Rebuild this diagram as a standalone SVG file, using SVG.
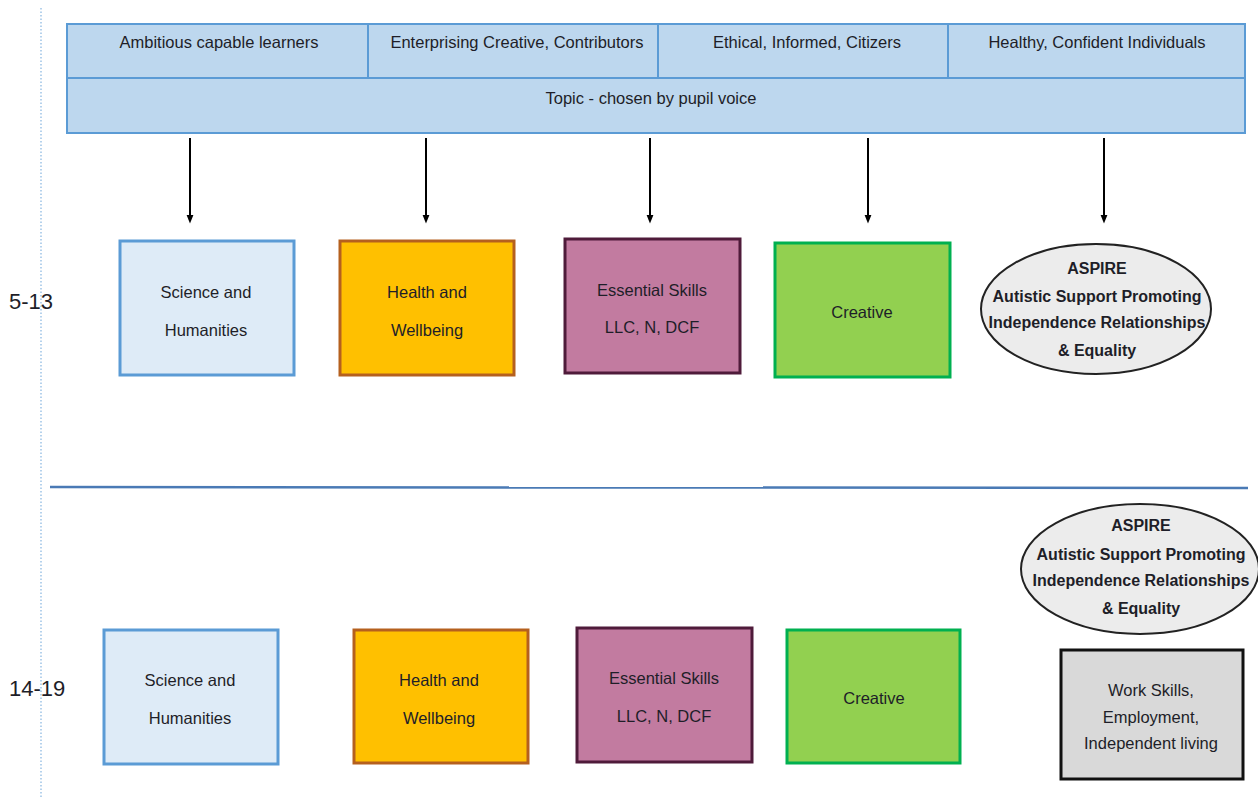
<svg xmlns="http://www.w3.org/2000/svg" width="1258" height="799" viewBox="0 0 1258 799">
<style>
text{font-family:"Liberation Sans",Arial,sans-serif;font-size:16.5px;fill:#1e1e28;text-anchor:middle}
.hdr{fill:#bdd7ee;stroke:#5b9bd5;stroke-width:2}
.sci{fill:#deebf7;stroke:#5b9bd5;stroke-width:3}
.hw{fill:#ffc000;stroke:#b5601e;stroke-width:3}
.es{fill:#c27ba0;stroke:#4f1b3a;stroke-width:3}
.cr{fill:#92d050;stroke:#00b050;stroke-width:3}
.asp{fill:#ececec;stroke:#222;stroke-width:2}
.ws{fill:#d9d9d9;stroke:#111;stroke-width:3}
.b{font-weight:bold;font-size:16px}
.age{font-size:22px;text-anchor:start}
.conn line{stroke:#000;stroke-width:2}
</style>
<defs>
<marker id="ah" markerWidth="9" markerHeight="10" refX="5" refY="5" orient="auto" markerUnits="userSpaceOnUse" viewBox="0 0 10 10">
<path d="M0,1 L10,5 L0,9 z" fill="#000"/>
</marker>
</defs>
<rect width="1258" height="799" fill="#fff"/>
<line x1="41" y1="8" x2="41" y2="799" stroke="#9dc3e6" stroke-width="1.5" stroke-dasharray="1.5 2"/>
<line x1="50" y1="487" x2="1248" y2="488" stroke="#4a7ab5" stroke-width="2.5"/>
<text class="age" x="9" y="309">5-13</text>
<text class="age" x="9" y="696">14-19</text>

<g id="header">
<rect class="hdr" x="67" y="24" width="1178" height="109"/>
<line x1="67" y1="78" x2="1245" y2="78" stroke="#5b9bd5" stroke-width="2"/>
<line x1="368" y1="24" x2="368" y2="78" stroke="#5b9bd5" stroke-width="2"/>
<line x1="658" y1="24" x2="658" y2="78" stroke="#5b9bd5" stroke-width="2"/>
<line x1="948" y1="24" x2="948" y2="78" stroke="#5b9bd5" stroke-width="2"/>
<text x="219" y="48">Ambitious capable learners</text>
<text x="517" y="48">Enterprising Creative, Contributors</text>
<text x="807" y="48">Ethical, Informed, Citizers</text>
<text x="1097" y="48">Healthy, Confident Individuals</text>
<text x="651" y="104">Topic  - chosen by pupil voice</text>
</g>

<g class="conn" id="connectors">
<line x1="190" y1="138" x2="190" y2="219" marker-end="url(#ah)"/>
<line x1="426" y1="138" x2="426" y2="219" marker-end="url(#ah)"/>
<line x1="650" y1="138" x2="650" y2="219" marker-end="url(#ah)"/>
<line x1="868" y1="138" x2="868" y2="219" marker-end="url(#ah)"/>
<line x1="1104" y1="138" x2="1104" y2="219" marker-end="url(#ah)"/>
</g>

<g id="sci1"><rect class="sci" x="120" y="241" width="174" height="134"/>
<text x="206" y="298">Science and</text><text x="206" y="336">Humanities</text></g>
<g id="hw1"><rect class="hw" x="340" y="241" width="174" height="134"/>
<text x="427" y="298">Health and</text><text x="427" y="336">Wellbeing</text></g>
<g id="es1"><rect class="es" x="565" y="239" width="175" height="134"/>
<text x="652" y="296">Essential Skills</text><text x="652" y="333">LLC, N, DCF</text></g>
<g id="cr1"><rect class="cr" x="775" y="243" width="175" height="134"/>
<text x="862" y="318">Creative</text></g>
<g id="asp1"><ellipse class="asp" cx="1096" cy="309" rx="115" ry="65"/>
<text class="b" x="1097" y="274">ASPIRE</text>
<text class="b" x="1097" y="302">Autistic Support Promoting</text>
<text class="b" x="1097" y="328">Independence Relationships</text>
<text class="b" x="1097" y="356">&amp; Equality</text></g>

<g id="sci2"><rect class="sci" x="104" y="630" width="174" height="134"/>
<text x="190" y="686">Science and</text><text x="190" y="724">Humanities</text></g>
<g id="hw2"><rect class="hw" x="354" y="630" width="174" height="133"/>
<text x="439" y="686">Health and</text><text x="439" y="724">Wellbeing</text></g>
<g id="es2"><rect class="es" x="577" y="628" width="175" height="134"/>
<text x="664" y="684">Essential Skills</text><text x="664" y="722">LLC, N, DCF</text></g>
<g id="cr2"><rect class="cr" x="787" y="630" width="173" height="133"/>
<text x="874" y="704">Creative</text></g>
<g id="asp2"><ellipse class="asp" cx="1140" cy="569" rx="119" ry="65"/>
<text class="b" x="1141" y="531">ASPIRE</text>
<text class="b" x="1141" y="560">Autistic Support Promoting</text>
<text class="b" x="1141" y="586">Independence Relationships</text>
<text class="b" x="1141" y="614">&amp; Equality</text></g>
<g id="ws2"><rect class="ws" x="1061" y="650" width="182" height="129"/>
<text x="1151" y="696">Work Skills,</text>
<text x="1151" y="723">Employment,</text>
<text x="1151" y="749">Independent living</text></g>
</svg>
